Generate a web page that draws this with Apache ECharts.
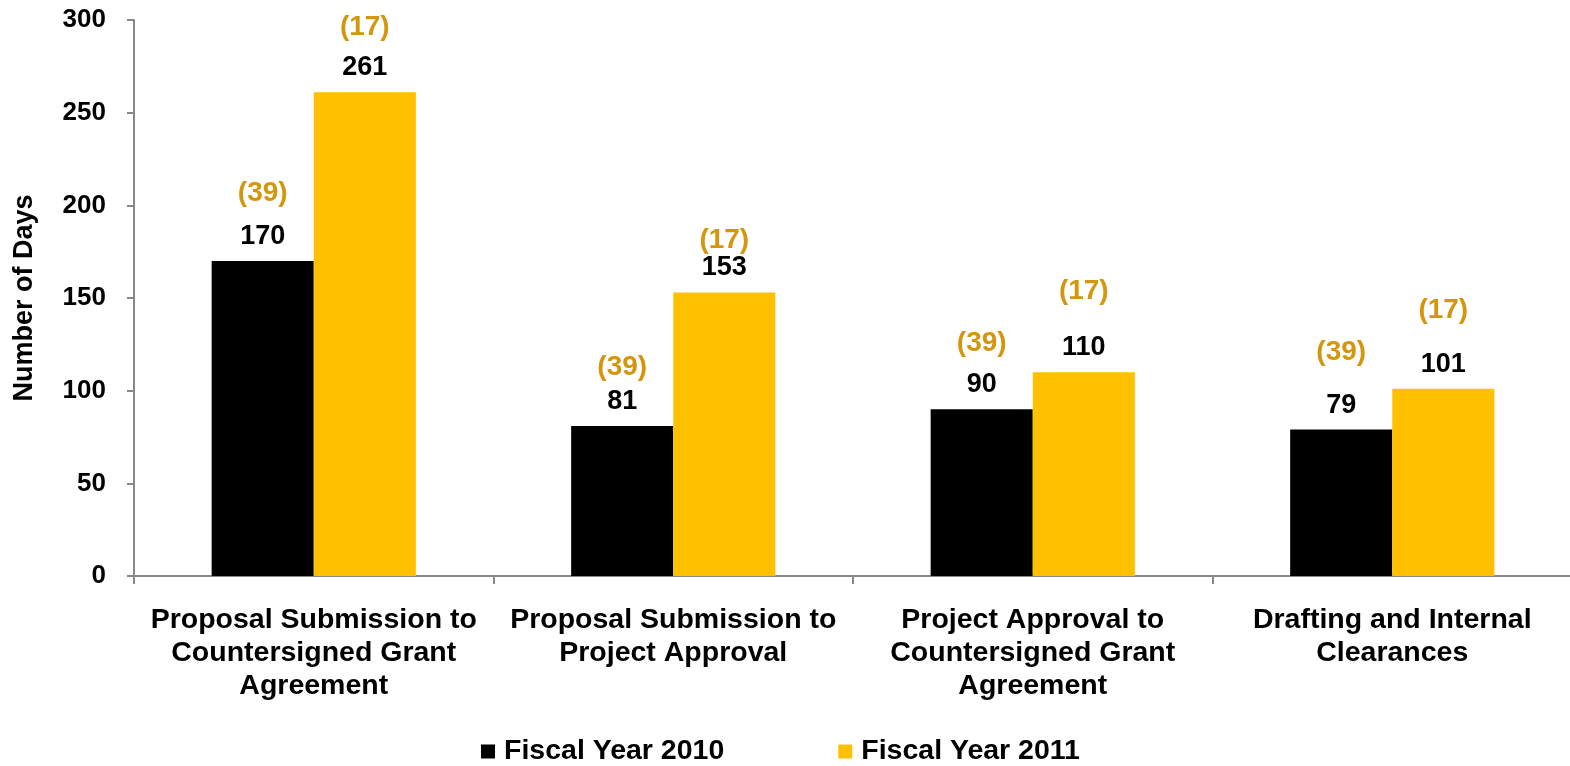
<!DOCTYPE html>
<html>
<head>
<meta charset="utf-8">
<script src="https://cdn.jsdelivr.net/npm/echarts@6/dist/echarts.min.js"></script>
<style>html,body{margin:0;padding:0;background:#fff}#c{width:1570px;height:766px}</style>
</head>
<body>
<div id="c"></div>
<script>
const categories = [
  'Proposal Submission to\nCountersigned Grant\nAgreement',
  'Proposal Submission to\nProject Approval',
  'Project Approval to\nCountersigned Grant\nAgreement',
  'Drafting and Internal\nClearances'
];
const seriesNames = ['Fiscal Year 2010', 'Fiscal Year 2011'];
const fy2010 = [170, 81, 90, 79];
const fy2011 = [261, 153, 110, 101];
const notes2010 = ['(39)', '(39)', '(39)', '(39)'];
const notes2011 = ['(17)', '(17)', '(17)', '(17)'];
// vertical placement of the notes, in days
const noteY2010 = [206.7, 112.8, 125.7, 120.9];
const noteY2011 = [296.2, 181.3, 153.8, 143.5];
const yTicks = [0, 50, 100, 150, 200, 250, 300];

const FONT = '"Liberation Sans", Arial, sans-serif';
const GOLD = '#D4960C';

function notePoints(notes, ys) {
  return notes.map((t, i) => ({ coord: [i, ys[i]], value: t }));
}

function barSeries(name, data, color, notes, ys) {
  return {
    name, type: 'bar', data,
    barWidth: '28.4%', barGap: '0%',
    itemStyle: { color },
    label: {
      show: true, position: 'top', distance: 11,
      color: '#000', fontFamily: FONT, fontWeight: 'bold', fontSize: 27
    },
    markPoint: {
      symbol: 'circle', symbolSize: 1,
      itemStyle: { color: 'rgba(0,0,0,0)' },
      label: {
        show: true, position: 'inside', formatter: p => p.value,
        color: GOLD, fontFamily: FONT, fontWeight: 'bold', fontSize: 28
      },
      data: notePoints(notes, ys)
    }
  };
}

const chart = echarts.init(document.getElementById('c'));
chart.setOption({
  animation: false,
  backgroundColor: '#fff',
  grid: { left: 134, top: 20, right: -2, bottom: 190, outerBoundsMode: 'none', containLabel: false },
  legend: {
    left: 481, top: 737, padding: 0,
    itemWidth: 14, itemHeight: 14, itemGap: 114,
    icon: 'rect',
    textStyle: { fontFamily: FONT, fontWeight: 'bold', fontSize: 28.5, lineHeight: 29, color: '#000', padding: [0, 0, 0, 4] },
    data: seriesNames
  },
  xAxis: {
    type: 'category', data: categories,
    axisLine: { lineStyle: { color: '#888', width: 2 } },
    axisTick: { show: true, length: 8, lineStyle: { color: '#888', width: 2 } },
    axisLabel: {
      interval: 0, margin: 28, color: '#000', fontFamily: FONT,
      fontWeight: 'bold', fontSize: 28.5, lineHeight: 33
    }
  },
  yAxis: {
    type: 'value', min: yTicks[0], max: yTicks[yTicks.length - 1], interval: 50,
    name: 'Number of Days', nameLocation: 'middle', nameGap: 96, nameRotate: 90,
    nameTextStyle: { fontFamily: FONT, fontWeight: 'bold', fontSize: 27, color: '#000' },
    axisLine: { show: true, lineStyle: { color: '#888', width: 2 } },
    axisTick: { show: true, length: 7, lineStyle: { color: '#888', width: 2 } },
    splitLine: { show: false },
    axisLabel: { margin: 28, color: '#000', fontFamily: FONT, fontWeight: 'bold', fontSize: 26 }
  },
  series: [
    barSeries(seriesNames[0], fy2010, '#000000', notes2010, noteY2010),
    barSeries(seriesNames[1], fy2011, '#FFC000', notes2011, noteY2011)
  ]
});
</script>
</body>
</html>
